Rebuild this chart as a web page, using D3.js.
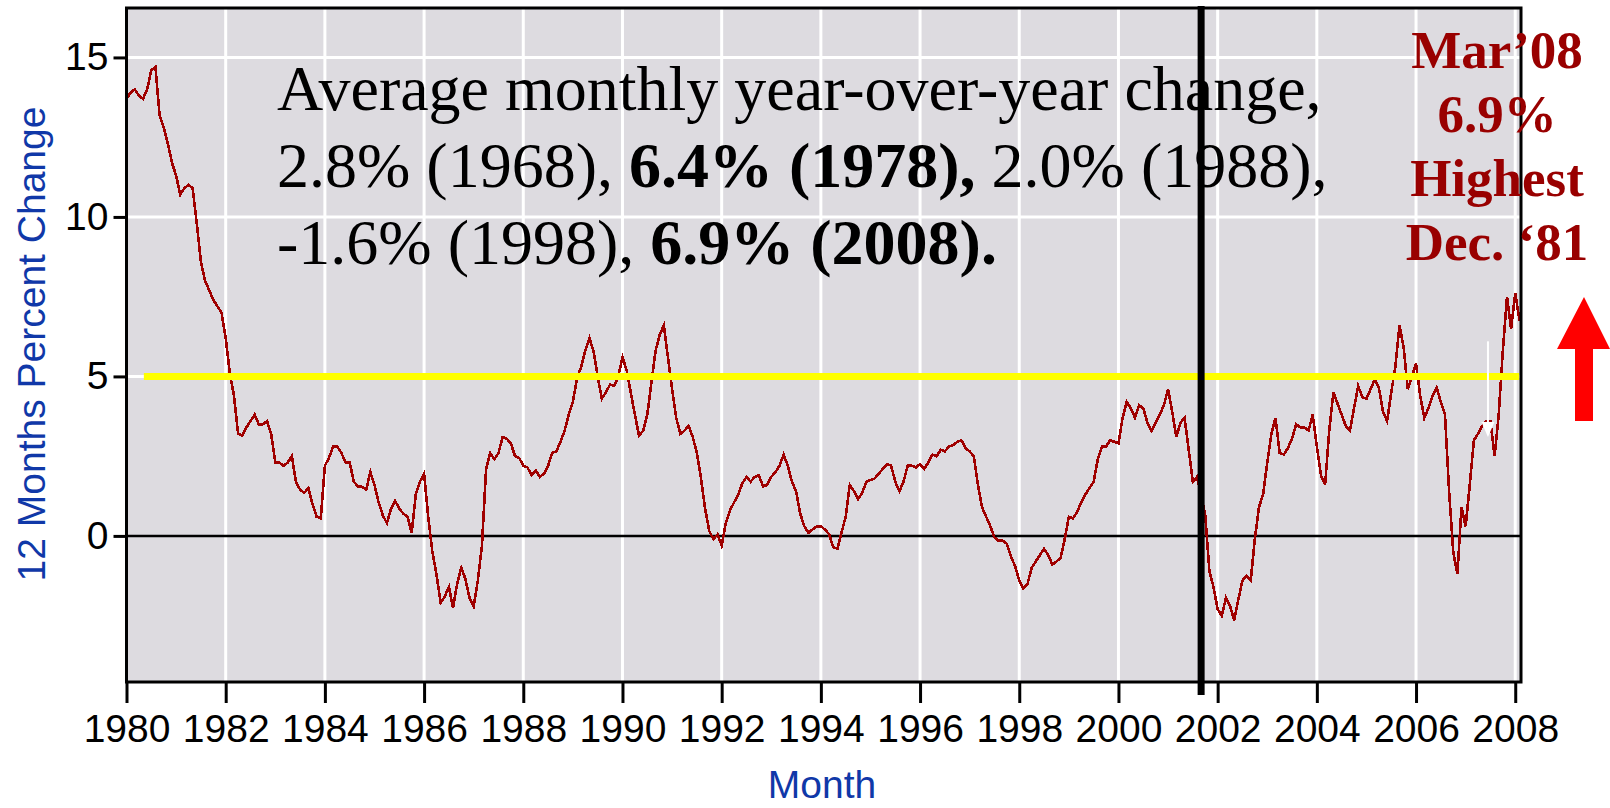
<!DOCTYPE html>
<html lang="en">
<head>
<meta charset="UTF-8">
<title>12 Months Percent Change</title>
<style>
  body { margin: 0; background: #fff; }
  svg { display: block; }
  .axis text { font-family: "Liberation Sans", Arial, sans-serif; font-size: 39px; fill: #000; }
  .axis line { stroke: #000; stroke-width: 3; }
  .title { font-family: "Liberation Sans", Arial, sans-serif; font-size: 39px; fill: #1038a8; }
  .note { font-family: "Liberation Serif", "Times New Roman", serif; }
</style>
</head>
<body>
<div id="chart"></div>
<script src="https://d3js.org/d3.v7.min.js"></script>
<script>
// monthly 12-month percent change, Jan 1980 .. Mar 2008
const startYear = 1980;
const pctChange = [
  13.7, 13.9, 14.0, 13.8, 13.7, 14.0, 14.6, 14.7, 13.2, 12.8, 12.3, 11.7, // 1980
  11.3, 10.7, 10.9, 11.0, 10.9, 9.8, 8.6, 8.0, 7.7, 7.4, 7.2, 7.0,        // 1981
  6.2, 5.1, 4.4, 3.2, 3.15, 3.4, 3.6, 3.8, 3.5, 3.5, 3.6, 3.2,           // 1982
  2.3, 2.3, 2.2, 2.3, 2.5, 1.7, 1.45, 1.35, 1.5, 1.0, 0.6, 0.55,         // 1983
  2.2, 2.45, 2.8, 2.8, 2.6, 2.3, 2.3, 1.7, 1.55, 1.54, 1.45, 2.0,        // 1984
  1.6, 1.05, 0.65, 0.4, 0.85, 1.1, 0.85, 0.7, 0.6, 0.1, 1.3, 1.7,        // 1985
  1.95, 0.6, -0.5, -1.2, -2.1, -1.9, -1.6, -2.25, -1.5, -1.0, -1.35, -1.95, // 1986
  -2.2, -1.4, -0.3, 2.1, 2.6, 2.4, 2.6, 3.1, 3.05, 2.9, 2.5, 2.45,       // 1987
  2.2, 2.15, 1.9, 2.05, 1.85, 1.95, 2.2, 2.6, 2.65, 2.95, 3.3, 3.8,      // 1988
  4.2, 4.95, 5.3, 5.8, 6.2, 5.8, 5.0, 4.3, 4.5, 4.75, 4.7, 5.0,          // 1989
  5.6, 5.2, 4.5, 3.8, 3.15, 3.3, 3.8, 4.8, 5.8, 6.3, 6.6, 5.6,           // 1990
  4.6, 3.7, 3.2, 3.3, 3.45, 3.1, 2.6, 1.8, 0.85, 0.15, -0.1, 0.05,       // 1991
  -0.3, 0.4, 0.8, 1.05, 1.3, 1.65, 1.85, 1.7, 1.85, 1.9, 1.55, 1.6,      // 1992
  1.85, 2.0, 2.2, 2.55, 2.2, 1.7, 1.4, 0.7, 0.3, 0.1, 0.2, 0.3,          // 1993
  0.3, 0.2, 0.05, -0.35, -0.4, 0.1, 0.6, 1.6, 1.4, 1.15, 1.35, 1.7,      // 1994
  1.75, 1.8, 1.95, 2.1, 2.25, 2.2, 1.7, 1.4, 1.7, 2.2, 2.2, 2.15,        // 1995
  2.25, 2.1, 2.3, 2.55, 2.5, 2.7, 2.65, 2.8, 2.85, 2.95, 3.0, 2.75,      // 1996
  2.65, 2.5, 1.6, 0.9, 0.6, 0.3, -0.05, -0.15, -0.15, -0.25, -0.65, -0.95, // 1997
  -1.4, -1.65, -1.5, -1.0, -0.8, -0.6, -0.4, -0.6, -0.9, -0.8, -0.7, -0.1, // 1998
  0.6, 0.55, 0.75, 1.05, 1.3, 1.5, 1.7, 2.4, 2.8, 2.8, 3.0, 2.95,        // 1999
  2.9, 3.7, 4.2, 4.0, 3.7, 4.1, 4.0, 3.55, 3.3, 3.55, 3.8, 4.1,          // 2000
  4.6, 3.9, 3.1, 3.55, 3.7, 2.7, 1.7, 1.85, 1.3, 0.65, -1.1, -1.6,       // 2001
  -2.3, -2.5, -1.95, -2.2, -2.65, -2.0, -1.4, -1.25, -1.4, -0.1, 0.9, 1.3, // 2002
  2.3, 3.2, 3.7, 2.6, 2.55, 2.75, 3.05, 3.5, 3.4, 3.4, 3.3, 3.8,         // 2003
  2.8, 1.9, 1.6, 3.3, 4.5, 4.15, 3.8, 3.45, 3.3, 4.0, 4.7, 4.35,         // 2004
  4.3, 4.6, 4.9, 4.65, 3.9, 3.6, 4.5, 5.3, 6.6, 5.9, 4.6, 5.0,           // 2005
  5.4, 4.4, 3.7, 4.0, 4.4, 4.65, 4.2, 3.8, 1.4, -0.5, -1.2, 0.9,         // 2006
  0.3, 1.6, 3.0, 3.2, 3.45, 3.6, 3.6, 2.5, 3.8, 5.8, 7.5, 6.5,           // 2007
  7.6, 6.8, 6.9                                                          // 2008
];
const yearTicks = [1980, 1982, 1984, 1986, 1988, 1990, 1992, 1994, 1996, 1998, 2000, 2002, 2004, 2006, 2008];
const valueTicks = [0, 5, 10, 15];
const gridValues = [5, 10, 15];
const refLevel = 5;                 // yellow reference level
const refSpan = [1980.35, 2008.08];
const markerDate = 2001 + 8 / 12;   // heavy black vertical
const whiteArrow = { date: 2007.45, from: 6.1, to: 3.1 };
const noteLines = [
  [{ t: "Average monthly year-over-year change," }],
  [{ t: "2.8% (1968), " }, { t: "6.4% (1978),", b: true }, { t: " 2.0% (1988)," }],
  [{ t: "-1.6% (1998), " }, { t: "6.9% (2008).", b: true }]
];
const sideLines = ["Mar\u201908", "6.9%", "Highest", "Dec. \u201881"];

const W = 1610, H = 808;
const plot = { left: 126.5, right: 1521, top: 8, bottom: 682 };

const svg = d3.select("#chart").append("svg").attr("width", W).attr("height", H);

const x = d3.scaleLinear().domain([startYear, 2008 + 2 / 12]).range([126.5, 1523.5]);
const y = d3.scaleLinear().domain([-4.58, 16.55]).range([plot.bottom, plot.top]);

svg.append("defs").append("clipPath").attr("id", "plotclip")
  .append("rect")
  .attr("x", plot.left).attr("y", plot.top)
  .attr("width", plot.right - plot.left).attr("height", plot.bottom - plot.top);

// background
svg.append("rect")
  .attr("x", plot.left).attr("y", plot.top)
  .attr("width", plot.right - plot.left).attr("height", plot.bottom - plot.top)
  .attr("fill", "#dddbe0");

// white grid
const grid = svg.append("g").attr("stroke", "#fff").attr("stroke-width", 3);
grid.selectAll("line.v").data(yearTicks.slice(1)).enter().append("line")
  .attr("x1", d => x(d)).attr("x2", d => x(d))
  .attr("y1", plot.top).attr("y2", plot.bottom);
grid.selectAll("line.h").data(gridValues).enter().append("line")
  .attr("x1", plot.left).attr("x2", plot.right)
  .attr("y1", d => y(d)).attr("y2", d => y(d));

// zero line
svg.append("line")
  .attr("x1", plot.left).attr("x2", plot.right)
  .attr("y1", y(0)).attr("y2", y(0))
  .attr("stroke", "#000").attr("stroke-width", 2.5);

// data line
const line = d3.line()
  .x((d, i) => x(startYear + i / 12))
  .y(d => y(d));

svg.append("path")
  .datum(pctChange)
  .attr("clip-path", "url(#plotclip)")
  .attr("d", line)
  .attr("fill", "none")
  .attr("stroke", "#a00000")
  .attr("stroke-width", 2.6)
  .attr("shape-rendering", "crispEdges");

// yellow reference
svg.append("line")
  .attr("x1", x(refSpan[0])).attr("x2", x(refSpan[1]))
  .attr("y1", y(refLevel)).attr("y2", y(refLevel))
  .attr("stroke", "#ffff00").attr("stroke-width", 7);

// axes
const xAxis = d3.axisBottom(x).tickValues(yearTicks).tickFormat(d3.format("d"))
  .tickSize(21).tickPadding(11);
svg.append("g").attr("class", "axis")
  .attr("transform", `translate(0,${plot.bottom})`)
  .call(xAxis)
  .call(g => g.select(".domain").remove());

const yAxis = d3.axisLeft(y).tickValues(valueTicks).tickSize(13).tickPadding(5);
svg.append("g").attr("class", "axis")
  .attr("transform", `translate(${plot.left},0)`)
  .call(yAxis)
  .call(g => g.select(".domain").remove());

// frame
svg.append("rect")
  .attr("x", plot.left).attr("y", plot.top)
  .attr("width", plot.right - plot.left).attr("height", plot.bottom - plot.top)
  .attr("fill", "none").attr("stroke", "#000").attr("stroke-width", 3);

// heavy black marker
svg.append("rect")
  .attr("x", x(markerDate) - 3.5).attr("y", 6)
  .attr("width", 7).attr("height", 695 - 6)
  .attr("fill", "#000");

// small white arrow
svg.append("line")
  .attr("x1", x(whiteArrow.date)).attr("x2", x(whiteArrow.date))
  .attr("y1", y(whiteArrow.from)).attr("y2", y(whiteArrow.to) - 14)
  .attr("stroke", "#fff").attr("stroke-width", 2);
svg.append("path")
  .attr("d", `M${x(whiteArrow.date) - 6.5},${y(whiteArrow.to) - 15}L${x(whiteArrow.date) + 6.5},${y(whiteArrow.to) - 15}L${x(whiteArrow.date)},${y(whiteArrow.to)}Z`)
  .attr("fill", "#fff");

// axis titles
svg.append("text").attr("class", "title")
  .attr("x", 822).attr("y", 798).attr("text-anchor", "middle")
  .text("Month");
svg.append("text").attr("class", "title")
  .attr("transform", "translate(45,344) rotate(-90)")
  .attr("text-anchor", "middle")
  .text("12 Months Percent Change");

// main note
const note = svg.append("text").attr("class", "note")
  .attr("font-size", 64).attr("fill", "#000");
noteLines.forEach((parts, i) => {
  parts.forEach((p, j) => {
    const ts = note.append("tspan").text(p.t).attr("font-weight", p.b ? "bold" : "normal");
    if (j === 0) ts.attr("x", 277).attr("y", 110 + i * 77);
  });
});

// side note
svg.append("text").attr("class", "note")
  .attr("font-size", 53).attr("font-weight", "bold").attr("fill", "#990000")
  .attr("text-anchor", "middle")
  .selectAll("tspan").data(sideLines).enter().append("tspan")
  .attr("x", 1497).attr("y", (d, i) => 68 + i * 64)
  .text(d => d);

// red arrow
svg.append("path")
  .attr("d", "M1584,297L1610,349L1593,349L1593,421L1575,421L1575,349L1557,349Z")
  .attr("fill", "#ff0000");
</script>
</body>
</html>
